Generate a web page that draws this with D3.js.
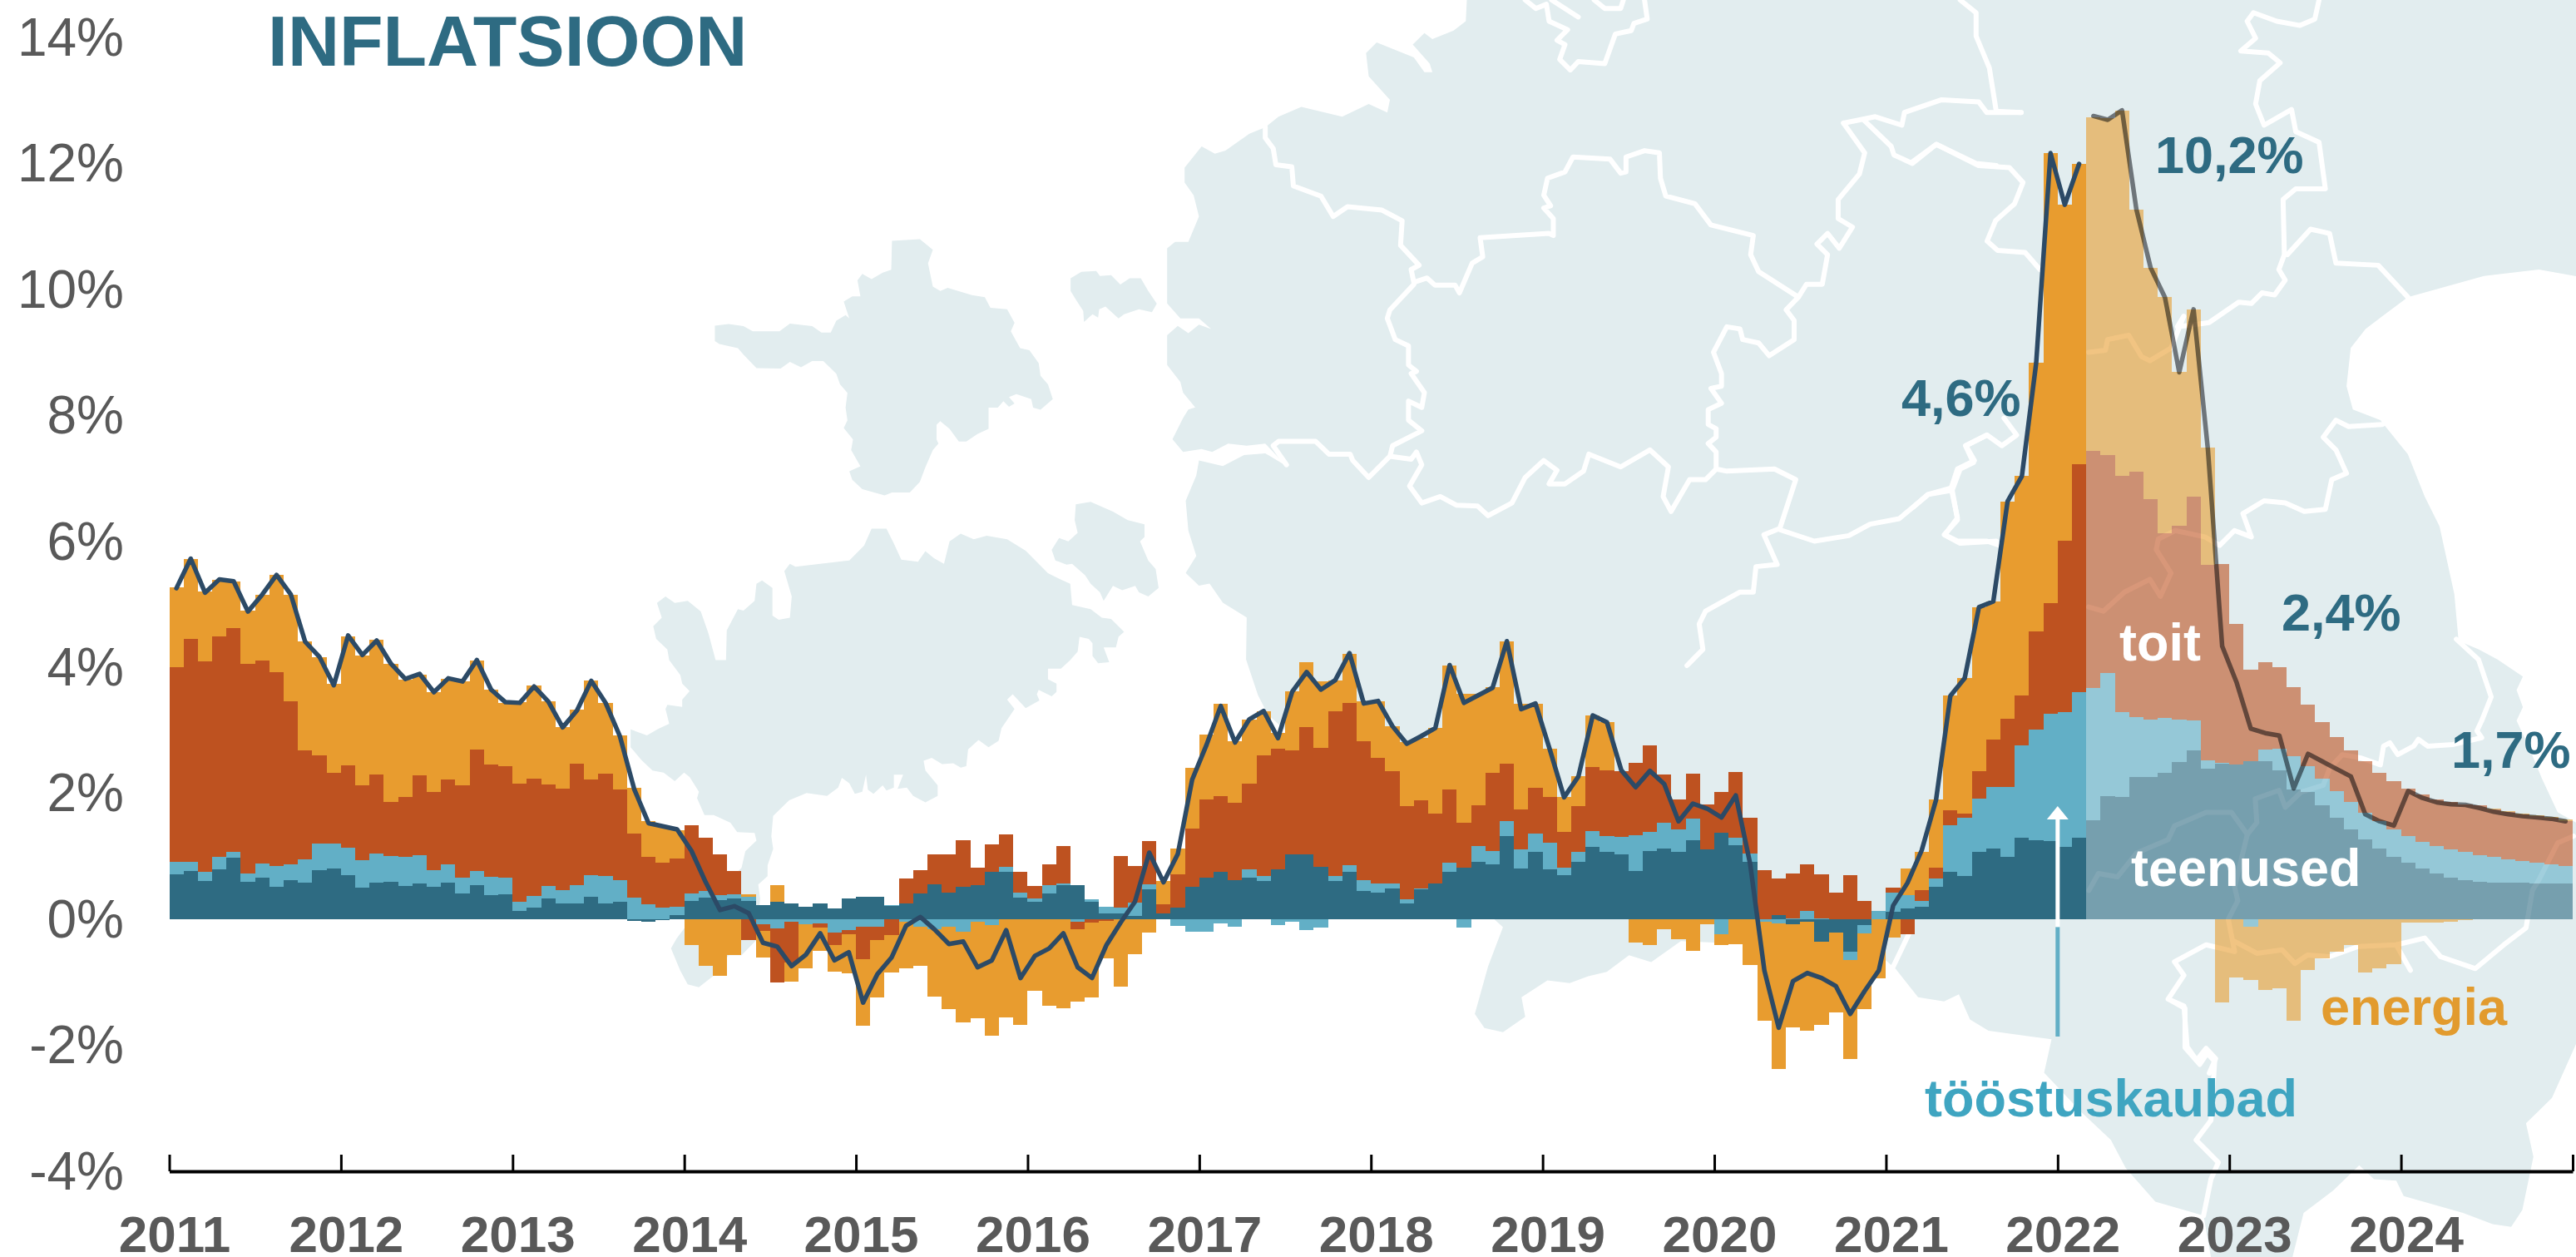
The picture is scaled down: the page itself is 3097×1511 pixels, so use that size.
<!DOCTYPE html>
<html><head><meta charset="utf-8">
<style>
html,body{margin:0;padding:0;background:#fff}
svg{display:block}
text{font-family:"Liberation Sans",Arial,sans-serif}
</style>
<script src="https://cdn.jsdelivr.net/npm/d3@7"></script>
</head><body>
<svg id="chart" width="3097" height="1511"></svg>
<script>
// ---- DATA (percentage points, monthly Jan 2011 - Dec 2024) ----
const startYear = 2011;
const forecastStart = 134; // first month (index) shown as projection, March 2022
const services = [
.72,.77,.61,.80,.98,.60,.67,.52,.63,.58,.78,.81,
.70,.50,.59,.60,.53,.57,.52,.58,.41,.54,.39,.40,
.14,.19,.33,.26,.26,.36,.25,.28,-.02,-.03,-.01,.07,
.30,.35,.31,.33,.30,.23,.28,.26,.20,.26,.18,.33,
.36,.36,.21,.26,.41,.56,.42,.52,.55,.76,.76,.35,
.28,.41,.54,.54,.28,.10,.10,.06,.48,.09,.19,.52,
.66,.75,.63,.66,.61,.79,1.04,1.03,.84,.61,.75,.45,
.43,.49,.26,.48,.57,.76,.82,.92,.87,1.33,.81,1.08,
.80,.71,.91,1.15,1.08,1.04,.77,1.09,1.12,1.07,1.26,1.11,
1.38,1.18,.92,0,.07,-.07,-.04,-.36,-.21,-.51,-.09,0,
.12,.18,.20,.52,.76,.69,1.08,1.12,1.00,1.30,1.26,1.24,
1.15,1.30,1.57,1.96,1.94,2.26,2.26,2.33,2.50,2.68,2.39,2.47,
2.46,2.51,2.52,2.37,2.07,2.02,1.81,1.62,1.43,1.27,1.12,1.00,
.90,.81,.73,.66,.62,.60,.59,.58,.58,.57,.57,.57];
const goods = [
.20,.15,.14,.20,.10,.13,.22,.33,.25,.37,.43,.40,
.44,.44,.46,.41,.47,.45,.26,.30,.26,.23,.29,.27,
.14,.18,.20,.20,.29,.35,.44,.35,.35,.24,.19,.13,
.11,.10,.07,.07,.06,-.07,-.14,-.04,-.08,-.06,-.21,-.17,
-.11,-.11,.02,-.04,-.11,-.15,-.12,-.19,-.04,-.09,.07,.07,
.06,.13,.03,-.03,.04,.10,.09,.21,.08,0,-.10,-.20,
-.19,-.06,-.11,.14,.08,-.09,-.03,-.17,-.13,.08,.11,.17,
.14,.08,.06,.01,0,.14,-.13,.25,.22,.23,.30,.28,
.42,.11,.17,.26,.25,.27,.57,.30,.41,.36,.34,0,
-.24,.12,.13,-.03,-.06,.02,.13,.01,0,-.14,-.13,.13,
.31,.20,.10,.13,.73,.93,.84,.99,1.10,1.46,1.76,2.03,
2.14,2.31,2.10,1.95,1.35,.96,.92,.87,.67,.48,.14,.02,
0,-.11,.18,.34,.52,.41,.42,.42,.44,.43,.44,.43,
.42,.42,.43,.45,.45,.42,.40,.37,.35,.33,.30,.28];
const food = [
3.09,3.53,3.35,3.50,3.55,3.33,3.22,3.08,2.58,1.74,1.39,1.12,
1.31,1.19,1.25,.85,.95,1.27,1.24,1.34,1.46,1.93,1.78,1.76,
1.88,1.86,1.62,1.62,1.93,1.51,1.63,1.44,1.01,.76,.71,.77,
1.08,.85,.66,.37,-.33,-.11,-.86,-.65,0,-.07,-.20,-.06,
-.52,-.22,-.25,.39,.37,.48,.62,.74,.27,.43,.52,.33,
.19,.34,.59,-.12,-.05,-.02,.82,.58,.68,.15,.53,.92,
1.25,1.21,1.22,1.36,1.91,1.92,1.64,2.03,1.89,2.62,2.58,2.21,
2.00,1.79,1.48,1.40,1.11,1.17,.72,.64,1.24,.92,.64,.73,
.72,.57,.72,1.01,1.04,1.05,1.15,1.37,.77,.47,.71,.72,
.65,1.04,.57,.78,.58,.71,.75,.71,.42,.71,.30,0,
.08,-.24,.17,.17,.24,.06,.43,.75,1.09,.80,1.56,1.76,
2.72,3.62,3.77,3.47,3.76,3.89,3.50,2.93,3.08,3.56,3.10,3.15,
2.23,1.46,1.39,1.29,1.10,.98,.91,.86,.81,.81,.77,.76,
.76,.76,.75,.75,.76,.79,.76,.76,.74,.74,.75,.71];
const energy = [
1.26,1.27,1.11,.89,.74,.84,1.04,1.54,1.70,1.72,1.57,1.41,
2.05,2.06,2.14,2.20,1.86,1.60,1.59,1.60,1.65,1.41,1.19,1.01,
1.29,1.48,1.31,.97,.85,1.57,1.12,.85,.73,.56,.60,.45,
-.41,-.74,-.90,-.57,.04,-.43,.27,-.30,-.69,-.37,-.42,-.63,
-1.06,-.91,-.59,-.74,-.63,-1.07,-1.30,-1.44,-1.53,-1.75,-1.55,-1.67,
-1.13,-1.37,-1.41,-1.15,-1.19,-.60,-1.07,-.55,-.21,.37,.40,.97,
1.02,1.46,.98,1.02,.70,.25,.94,1.02,1.05,.48,.78,.63,
.90,.71,1.02,1.00,1.36,1.96,2.05,1.78,1.36,1.93,1.67,1.33,
.77,.56,.48,.82,.77,0,-.37,-.40,-.16,-.32,-.50,-.07,
-.17,-.39,-.73,-1.58,-2.31,-1.65,-1.73,-1.31,-1.27,-1.57,-1.20,-.94,
-.29,.43,.61,1.08,1.83,2.15,2.61,2.19,3.45,3.48,4.26,7.14,
5.34,4.77,5.30,5.34,5.79,4.16,3.67,3.76,2.45,2.97,1.86,-1.32,
-.92,-.85,-1.12,-1.09,-1.61,-.80,-.62,-.51,-.41,-.84,-.77,-.71,
-.05,-.05,-.05,-.03,-.01,0,.01,.01,.01,.01,.01,.03];
const inflation = [
5.26,5.73,5.19,5.40,5.37,4.89,5.16,5.47,5.16,4.41,4.17,3.72,
4.51,4.20,4.43,4.06,3.82,3.90,3.61,3.83,3.78,4.12,3.65,3.45,
3.44,3.70,3.46,3.05,3.32,3.79,3.44,2.91,2.07,1.53,1.48,1.43,
1.09,.59,.15,.21,.10,-.37,-.43,-.74,-.56,-.22,-.65,-.52,
-1.32,-.87,-.60,-.10,.04,-.16,-.39,-.35,-.76,-.65,-.17,-.93,
-.58,-.46,-.22,-.76,-.93,-.41,-.05,.28,1.06,.59,1.04,2.22,
2.77,3.39,2.81,3.18,3.31,2.88,3.62,3.93,3.65,3.80,4.23,3.43,
3.47,3.07,2.79,2.91,3.04,4.04,3.44,3.56,3.68,4.42,3.34,3.43,
2.70,1.94,2.27,3.24,3.13,2.37,2.10,2.36,2.15,1.56,1.84,1.76,
1.62,1.97,.89,-.81,-1.72,-.98,-.85,-.93,-1.06,-1.50,-1.14,-.81,
.22,.58,1.10,1.90,3.55,3.83,4.96,5.05,6.64,7.04,8.84,12.17,
11.35,12.00,12.76,12.70,12.85,11.28,10.35,9.88,8.69,9.69,7.47,4.34,
3.77,3.03,2.96,2.92,2.08,2.63,2.51,2.39,2.27,1.67,1.56,1.49,
2.04,1.93,1.86,1.83,1.82,1.77,1.71,1.67,1.64,1.62,1.60,1.56];
const yTicks = [-4,-2,0,2,4,6,8,10,12,14];
const yearTicks = d3.range(0,169,12);
const seriesKeys = ["services","goods","food","energy"];
const seriesColors = {services:"#2E6B82",goods:"#62AFC6",food:"#BE5220",energy:"#E89C2F"};
const annotations = [
 {t:"INFLATSIOON",x:322,y:79,size:86,fill:"#2E6B82"},
 {t:"10,2%",x:2591,y:208,size:63,fill:"#2E6B82"},
 {t:"4,6%",x:2286,y:500,size:63,fill:"#2E6B82"},
 {t:"2,4%",x:2743,y:758,size:63,fill:"#2E6B82"},
 {t:"1,7%",x:2947,y:923,size:63,fill:"#2E6B82"},
 {t:"toit",x:2548,y:794,size:63,fill:"#fff"},
 {t:"teenused",x:2562,y:1065,size:63,fill:"#fff"},
 {t:"energia",x:2790,y:1232,size:63,fill:"#E29B2E"},
 {t:"tööstuskaubad",x:2314,y:1342,size:63,fill:"#3FA5C1"}
];

const tf=(ox,oy,sx,sy,p)=>p.map(([a,b])=>[ox+a/sx,oy+b/sy]);
const Z7=p=>tf(780,240,2.24,1.96,p), Z2=p=>tf(800,900,2.24,3,p), Z3=p=>tf(1400,700,2.09,2.8,p),
      Z8=p=>tf(1400,0,1.568,1.96,p), Z9=p=>tf(2300,0,1.967,1.96,p), Z6=p=>tf(2500,650,2.626,2.45,p),
      Z10=p=>tf(1700,1000,1.122,2.97,p), Z4=p=>tf(2000,700,2.8,2.8,p);
const landA=Z7([[178,297],[215,293],[255,298],[280,310],[352,310],[380,292],[440,298],[465,313],[490,313],[505,285],[530,272],[540,280],[525,240],[548,228],[570,228],[562,190],[575,175],[600,187],[630,172],[653,165],[655,97],[730,93],[765,118],[752,150],[765,205],[785,215],[805,208],[870,225],[905,230],[920,255],[965,258],[985,290],[975,310],[1000,350],[1025,355],[1050,385],[1055,415],[1075,435],[1088,470],[1055,495],[1035,490],[1030,470],[990,458],[970,465],[985,480],[970,488],[955,475],[940,490],[915,490],[915,540],[885,552],[855,570],[835,570],[810,540],[785,522],[775,530],[775,565],[780,575],[765,590],[745,630],[730,665],[703,690],[655,690],[635,697],[575,682],[548,660],[540,640],[570,628],[545,590],[550,565],[525,538],[535,520],[530,490],[535,455],[515,435],[505,410],[470,380],[440,380],[410,395],[380,382],[355,398],[290,397],[255,365],[240,350],[190,340],[178,333]]);
const landB=Z7([[1136,185],[1165,170],[1205,168],[1215,180],[1245,178],[1270,200],[1295,185],[1325,185],[1345,215],[1368,245],[1355,265],[1320,258],[1280,270],[1265,280],[1230,252],[1213,258],[1210,278],[1195,270],[1172,288],[1170,262],[1150,235],[1136,215]]);
const landC=Z7([[1150,718],[1190,712],[1250,735],[1290,755],[1335,765],[1335,795],[1323,805],[1345,850],[1365,870],[1373,915],[1345,935],[1320,925],[1310,910],[1275,920],[1250,910],[1225,945],[1215,925],[1190,905],[1175,885],[1140,858],[1125,860],[1095,850],[1085,825],[1105,797],[1130,805],[1155,785],[1147,755]]);
const landD=[...Z7([[600,775],[640,775],[660,810],[680,848],[725,853],[745,828],[768,845],[795,858],[810,805],[840,787],[875,800],[910,792],[965,800],[1015,827],[1075,880],[1110,895],[1135,905],[1140,955],[1190,965],[1220,985],[1245,988],[1280,1018],[1265,1030],[1258,1055],[1225,1055],[1240,1090],[1210,1092],[1195,1075],[1195,1045],[1185,1035],[1160,1030],[1155,1065],[1135,1085],[1110,1105],[1075,1105],[1075,1130],[1098,1140],[1098,1160],[1085,1170],[1050,1155],[1045,1165],[1052,1180],[1015,1198],[980,1165],[965,1178],[985,1200],[950,1245],[942,1275],[915,1290],[888,1273],[860,1295],[855,1335],[840,1338],[820,1328],[790,1330],[762,1315],[740,1322],[745,1345],[778,1380],[778,1405],[745,1420],[712,1405],[695,1385],[670,1388],[685,1355],[660,1355],[660,1385],[640,1392],[630,1380],[605,1400],[590,1390],[585,1355],[575,1395],[555,1400],[540,1375],[520,1362],[510,1385],[480,1405],[425,1398],[378,1415],[335,1452],[330,1500],[335,1530],[320,1568]]),
 ...Z2([[275,460],[250,490],[255,540],[245,690],[205,745],[170,745],[130,818],[90,860],[60,850],[40,800],[15,720],[30,685],[100,560],[205,430]]),
 ...Z7([[260,1535],[290,1510],[285,1492],[238,1490],[220,1468],[175,1450],[150,1450],[130,1410],[135,1395],[110,1360],[95,1350],[70,1370],[40,1350],[10,1345],[-20,1320],[-49,1290],[-49,1248],[-5,1262],[25,1247],[55,1235],[45,1200],[50,1190],[90,1195],[90,1178],[110,1158],[90,1140],[85,1120],[55,1085],[50,1060],[20,1035],[12,1005],[35,985],[22,950],[45,935],[70,950],[105,945],[140,970],[160,1020],[180,1085],[208,1085],[210,1015],[240,965],[255,968],[285,945],[290,905],[305,897],[333,915],[333,980],[350,990],[380,985],[385,935],[365,875],[380,858],[395,865],[540,850],[580,815]])];
const landMain=[[3097,0],[3097,332],
 ...Z9([[1480,635],[1350,650],[1170,700],[1110,745],[1070,775],[1035,820],[1025,910],[1040,965],[1105,990],[1170,1070],[1210,1170],[1245,1240],[1280,1400],[1290,1510]]),
 ...Z6([[1260,320],[1320,350],[1400,400],[1380,440],[1400,490],[1380,530],[1420,610],[1460,700],[1510,800],[1568,830]]),
 [3097,1255],
 ...Z10([[1535,950],[1500,1040],[1510,1160],[1495,1350],[1480,1410],[1455,1400],[1415,1360],[1335,1300],[1325,1245],[1295,1240],[1275,1190],[1240,1280],[1200,1360],[1185,1518],[1075,1518],[1065,1370],[1000,1320],[960,1200],[940,1100],[900,1000],[850,860],[860,740],[830,730],[775,710],[750,670],[735,580],[715,605],[680,590],[650,490],[620,420],[360,390],[320,465],[290,440],[260,500],[235,515],[210,540],[180,530],[145,590],[150,660],[120,715],[95,700],[82,650],[100,480],[120,340]]),
 ...Z3([[260,445],[235,380],[205,260]]),
 ...Z8([[155,1455],[110,1420],[85,1375],[65,1380],[40,1350],[60,1310],[45,1250],[40,1180],[60,1120],[65,1085],[110,1098],[150,1072],[190,1068],[230,1098],[190,1045],[155,1050],[120,1045],[90,1065],[70,1058],[35,1065],[15,1035],[35,985],[45,965],[58,960],[35,925],[30,900],[5,860],[5,790],[25,768],[45,785],[65,765],[88,775],[65,750],[30,750],[5,715],[5,585],[20,570],[45,570],[65,510],[55,460],[38,430],[38,395],[70,345],[95,362],[115,355],[160,315],[190,300],[215,275],[258,252],[335,275],[385,245],[420,265],[425,235],[385,180],[380,125],[400,100],[470,135],[490,170],[505,170],[500,150],[468,105],[490,78],[505,92],[545,72],[568,50],[570,0]])];
const borders=[
 Z8([[190,300],[190,325],[205,350],[210,388],[240,393],[243,438],[295,462],[318,510],[345,487],[410,495],[448,520],[445,578],[480,625],[465,635],[470,665],[495,655],[510,672],[548,672],[556,690],[580,620],[600,605],[595,560],[725,550],[733,555],[733,515],[715,490],[728,485],[715,460],[722,420],[755,405],[770,370],[840,375],[860,408],[870,405],[870,370],[905,355],[933,360],[935,420],[945,462],[1000,480],[1030,530],[1110,555],[1105,600],[1120,640],[1195,700],[1172,730],[1187,755],[1187,800],[1140,838],[1120,808],[1090,800],[1085,775],[1060,770],[1035,830],[1050,880],[1050,910],[1030,915],[1050,950],[1025,965],[1025,1000],[1040,1010],[1040,1030],[1025,1045],[1040,1065],[1040,1105],[1060,1110],[1150,1105],[1190,1130],[1160,1245],[1130,1260],[1155,1330],[1115,1335],[1110,1395],[1085,1395],[1020,1440],[1008,1470],[1015,1530],[985,1568]]),
 Z8([[470,670],[425,730],[420,750],[435,800],[460,815],[460,860],[475,875],[465,880],[490,925],[485,960],[460,945],[460,990],[485,1015],[430,1050],[425,1075],[385,1125],[355,1085],[350,1070],[310,1070],[285,1040],[215,1040],[205,1050],[230,1095]]),
 Z8([[425,1075],[465,1082],[475,1065],[485,1095],[462,1145],[485,1185],[520,1170],[550,1190],[590,1192],[610,1215],[655,1185],[680,1125],[715,1085],[740,1108],[725,1140],[755,1140],[790,1110],[800,1070],[860,1100],[915,1060],[950,1100],[940,1170],[955,1205],[990,1130],[1020,1130],[1040,1105]]),
 Z8([[1160,1248],[1225,1275],[1290,1262],[1330,1235],[1385,1222],[1440,1165],[1485,1155],[1500,1105],[1525,1090],[1510,1050],[1550,1025]]),
 Z8([[1485,1155],[1495,1225],[1470,1260],[1500,1280],[1568,1275]]),
 Z8([[1280,290],[1340,275],[1390,295],[1395,265],[1465,235],[1535,240],[1550,265],[1615,265]]),
 Z8([[1500,0],[1530,30],[1530,85],[1555,160],[1568,262],[1615,265]]),
 Z8([[1280,290],[1320,360],[1310,410],[1270,470],[1270,515],[1297,535],[1272,585],[1250,550],[1230,575],[1250,600],[1240,670],[1210,670],[1195,700]]),
 Z8([[1320,285],[1370,345],[1375,365],[1410,385],[1455,340],[1530,385],[1568,390]]),
 Z8([[680,0],[700,20],[720,10],[725,50],[760,70],[740,95],[755,105],[745,140],[765,165],[780,145],[830,150],[850,80],[880,72],[885,55],[910,45],[905,0]]),
 Z8([[730,0],[780,40]]), Z8([[810,0],[830,20],[860,20],[865,0]]),
 Z9([[0,380],[55,340],[155,390],[228,395],[260,430],[240,480],[195,520],[175,568],[200,590],[265,595],[300,635]]),
 Z9([[215,985],[245,1025],[210,1050],[175,1025],[125,1050],[145,1085],[105,1105],[90,1150],[35,1165],[0,1195]]),
 Z9([[90,1150],[105,1220],[75,1260],[105,1275],[175,1275],[205,1285]]),
 Z9([[960,0],[950,45],[915,60],[860,50],[805,30],[790,50],[810,90],[775,120],[840,125],[868,148],[820,190],[810,245],[830,295],[895,258],[905,310],[960,335],[975,445],[905,445],[875,470],[878,600],[865,635],[880,660],[855,695],[825,690],[800,715],[770,712],[700,760],[665,765],[625,770],[640,745],[610,820],[560,850],[540,840],[510,790],[460,800],[455,825],[415,830]]),
 Z9([[885,600],[940,540],[985,550],[1000,620],[1100,625],[1170,700]]),
 Z9([[1110,1000],[1030,1005],[1000,990],[970,1030],[1000,1060],[1025,1115],[990,1130],[975,1200],[925,1205],[880,1185],[830,1180],[780,1210],[800,1265],[760,1250],[725,1285],[690,1265],[620,1250],[580,1270],[575,1295],[610,1350],[585,1405],[560,1365],[500,1395],[450,1440],[415,1430]]),
 Z6([[1190,290],[1260,350],[1300,460],[1270,530],[1255,560],[1270,580],[1180,600],[1100,605],[1070,585],[1055,605],[1005,630],[980,595],[960,605],[950,660],[890,640],[830,630],[790,670],[770,720],[700,740],[650,785],[630,735],[555,760],[560,830],[530,865],[480,800],[400,800],[300,840],[280,880],[180,920],[120,990],[60,980],[30,1030]]),
 Z6([[530,865],[490,1020],[500,1060],[470,1115],[490,1210],[400,1190],[300,1240],[330,1280],[280,1350],[330,1370],[340,1490],[370,1530],[400,1495],[430,1525],[410,1568]]),
 Z6([[490,1180],[560,1215],[640,1205],[680,1245],[720,1220],[790,1225],[880,1195],[1000,1190],[1090,1170],[1140,1225],[1250,1260],[1340,1190],[1410,1140],[1430,1030],[1450,1000],[1510,890],[1560,870]]),
 Z6([[1000,1190],[1045,1265]]),
 Z10([[1020,600],[1040,630],[1040,770],[1060,830],[1070,790],[1080,820],[1075,1030],[1055,1100],[1085,1180],[1075,1240],[1065,1370]]),
 Z4([[770,1300],[825,1185]])
];

// ---- Scales ----
const x = d3.scaleLinear().domain([0,168]).range([203.5,3093]);
const y = d3.scaleLinear().domain([-4,14]).range([1408,45.6]);
const svg = d3.select("#chart");

// map
const path = d3.line().curve(d3.curveLinear);
const mapG = svg.append("g");
mapG.selectAll("path.land").data([landMain,landA,landB,landC,landD]).join("path")
  .attr("class","land").attr("d",d=>path(d)+"Z").attr("fill","#E2EDEF");
mapG.selectAll("path.border").data(borders).join("path")
  .attr("class","border").attr("d",path).attr("fill","none").attr("stroke","#fff")
  .attr("stroke-width",6).attr("stroke-linejoin","round").attr("stroke-linecap","round");

// stacked bars
const months = d3.range(services.length).map(i=>({i,services:services[i],goods:goods[i],food:food[i],energy:energy[i]}));
const stacked = d3.stack().keys(seriesKeys).offset(d3.stackOffsetDiverging).order(d3.stackOrderNone)(months);
svg.append("g").attr("shape-rendering","crispEdges").selectAll("g").data(stacked).join("g")
  .attr("fill",s=>seriesColors[s.key])
  .selectAll("rect").data(s=>s.filter(d=>d[0]!==d[1])).join("rect")
  .attr("x",d=>x(d.data.i)).attr("width",d=>x(d.data.i+1)-x(d.data.i))
  .attr("y",d=>y(Math.max(d[0],d[1]))).attr("height",d=>Math.abs(y(d[0])-y(d[1])))
  .attr("opacity",d=>d.data.i>=forecastStart?0.6:1);

// inflation line: two separate pieces
const line = d3.line().x(i=>x(i+.5)).y(i=>y(inflation[i]));
const idx = d3.range(inflation.length);
const lineG = svg.append("g").attr("fill","none").attr("stroke-linejoin","round").attr("stroke-linecap","round").attr("stroke-width",5.5);
lineG.append("path").attr("d",line(idx.filter(i=>i<forecastStart))).attr("stroke","#2C4A66");
lineG.append("path").attr("d",line(idx.filter(i=>i>=forecastStart))).attr("stroke","#7C7E82").style("mix-blend-mode","multiply");

// y axis
const gy = svg.append("g").attr("transform","translate(149,0)")
  .call(d3.axisLeft(y).tickValues(yTicks).tickSize(0).tickPadding(0).tickFormat(d=>d+"%"));
gy.select(".domain").remove();
gy.selectAll("text").attr("font-size",64).attr("fill","#595959").attr("dy",null).attr("y",21).style("font-family",'"Liberation Sans",Arial,sans-serif');

// x axis
const gx = svg.append("g").attr("transform","translate(0,1408)")
  .call(d3.axisBottom(x).tickValues(yearTicks).tickSizeOuter(0).tickSizeInner(-20).tickFormat(d=>d<168?String(startYear+d/12):""));
gx.select(".domain").attr("stroke","#000").attr("stroke-width",4);
gx.selectAll(".tick line").attr("stroke","#000").attr("stroke-width",3);
gx.selectAll("text").attr("font-size",62).attr("font-weight","bold").attr("fill","#595959").attr("dy",null).attr("y",97).attr("x",6).style("font-family",'"Liberation Sans",Arial,sans-serif');

// arrow annotation, at the January 2022 tick
const arrowX = x(132);
svg.append("line").attr("x1",arrowX).attr("x2",arrowX).attr("y1",y(-.12)).attr("y2",1246).attr("stroke","#62AFC6").attr("stroke-width",5);
svg.append("line").attr("x1",arrowX).attr("x2",arrowX).attr("y1",984).attr("y2",y(-.12)).attr("stroke","#fff").attr("stroke-width",5);
svg.append("path").attr("d",d3.line()([[arrowX,969],[arrowX+13,985],[arrowX-13,985]])+"Z").attr("fill","#fff");

// labels
svg.append("g").selectAll("text").data(annotations).join("text")
  .attr("x",d=>d.x).attr("y",d=>d.y).attr("font-size",d=>d.size).attr("font-weight","bold")
  .attr("fill",d=>d.fill).text(d=>d.t);
</script>
</body></html>
